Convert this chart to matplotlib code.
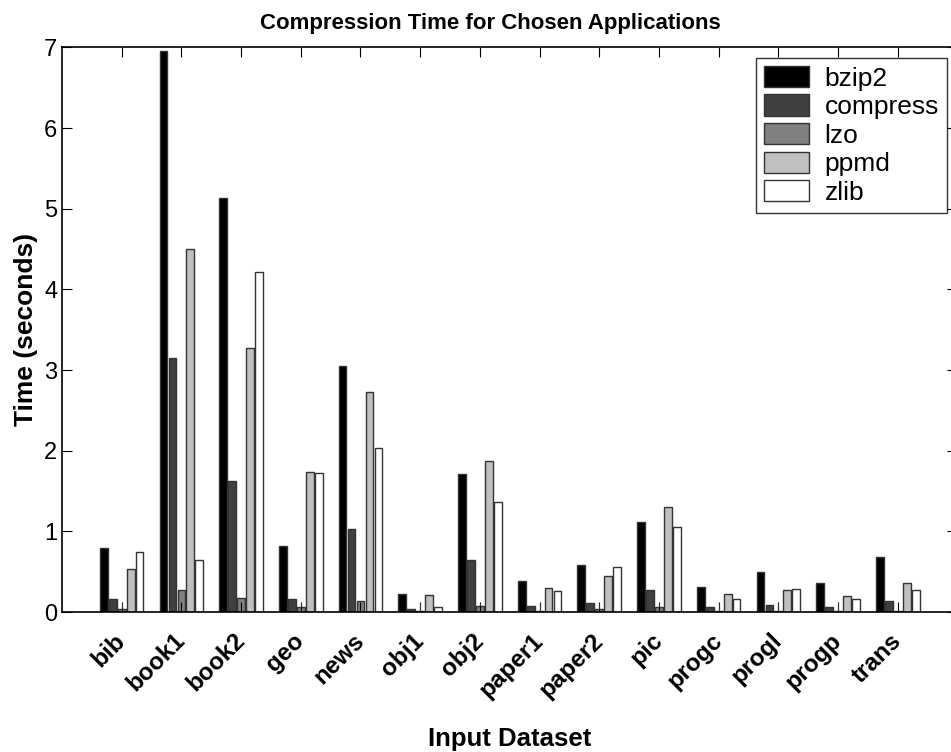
import numpy as np
import matplotlib.pyplot as plt

plt.rcParams['font.family'] = ['Liberation Sans', 'DejaVu Sans']

datasets = ["bib", "book1", "book2", "geo", "news", "obj1", "obj2",
            "paper1", "paper2", "pic", "progc", "progl", "progp", "trans"]

# compression time in seconds per algorithm
bzip2 = [0.80, 6.95, 5.13, 0.82, 3.05, 0.23, 1.71, 0.39, 0.58, 1.12, 0.31, 0.50, 0.36, 0.68]
compress = [0.165, 3.15, 1.62, 0.165, 1.03, 0.04, 0.645, 0.075, 0.115, 0.27, 0.06, 0.09, 0.06, 0.135]
lzo = [0.04, 0.27, 0.18, 0.06, 0.14, 0.01, 0.07, 0.02, 0.035, 0.06, 0.01, 0.02, 0.01, 0.02]
ppmd = [0.54, 4.50, 3.27, 1.74, 2.73, 0.21, 1.87, 0.30, 0.45, 1.30, 0.23, 0.28, 0.20, 0.36]
zlib = [0.74, 0.645, 4.22, 1.72, 2.03, 0.06, 1.37, 0.26, 0.56, 1.06, 0.16, 0.29, 0.16, 0.27]
lzo_err = [0.075, 0.0, 0.0, 0.055, 0.0, 0.10, 0.045, 0.095, 0.08, 0.055, 0.10, 0.095, 0.10, 0.0]

series = [("bzip2", bzip2, "#000000"),
          ("compress", compress, "#404040"),
          ("lzo", lzo, "#808080"),
          ("ppmd", ppmd, "#c0c0c0"),
          ("zlib", zlib, "#ffffff")]

fig = plt.figure(figsize=(9.51, 7.52), dpi=100)
# axes runs slightly past the right edge of the canvas
ax = fig.add_axes([0.0652, 0.186, 0.9416, 0.751])

x = np.arange(1, len(datasets) + 1)
slot = 0.15
width = 0.13
for i, (name, vals, color) in enumerate(series):
    pos = x + (i - 2) * slot
    ax.bar(pos, vals, width=width, color=color, edgecolor="#333333",
           linewidth=1.0, label=name)
    if name == "lzo":
        ax.errorbar(pos, vals, yerr=[np.zeros(len(vals)), lzo_err], fmt="none",
                    ecolor="#333333", elinewidth=0.8, capsize=0)

ax.set_xlim(0, 15)
ax.set_ylim(0, 7)
ax.set_xticks(x)
ax.set_xticklabels(datasets, rotation=45, ha="right", va="center",
                   rotation_mode="anchor", fontsize=17.5, fontweight="bold")
ax.set_yticks(range(8))
ax.tick_params(axis="y", labelsize=17, direction="in", length=7, right=True)
ax.tick_params(axis="x", direction="in", length=7, top=True, pad=18)
for s in ax.spines.values():
    s.set_linewidth(1.2)

ax.set_title("Compression Time for Chosen Applications", fontsize=16,
             fontweight="bold", pad=13, x=0.478)
ax.set_xlabel("Input Dataset", fontsize=18.5, fontweight="bold", labelpad=18)
ax.set_ylabel("Time (seconds)", fontsize=19, fontweight="bold", labelpad=4)

leg = ax.legend(loc="upper right", fontsize=19, frameon=True, fancybox=False,
                edgecolor="black", borderaxespad=0.4, handlelength=1.7,
                handleheight=0.85, labelspacing=0.15, borderpad=0.3,
                handletextpad=0.6)
leg.get_frame().set_linewidth(1.0)

fig.savefig("out.png", dpi=100)
